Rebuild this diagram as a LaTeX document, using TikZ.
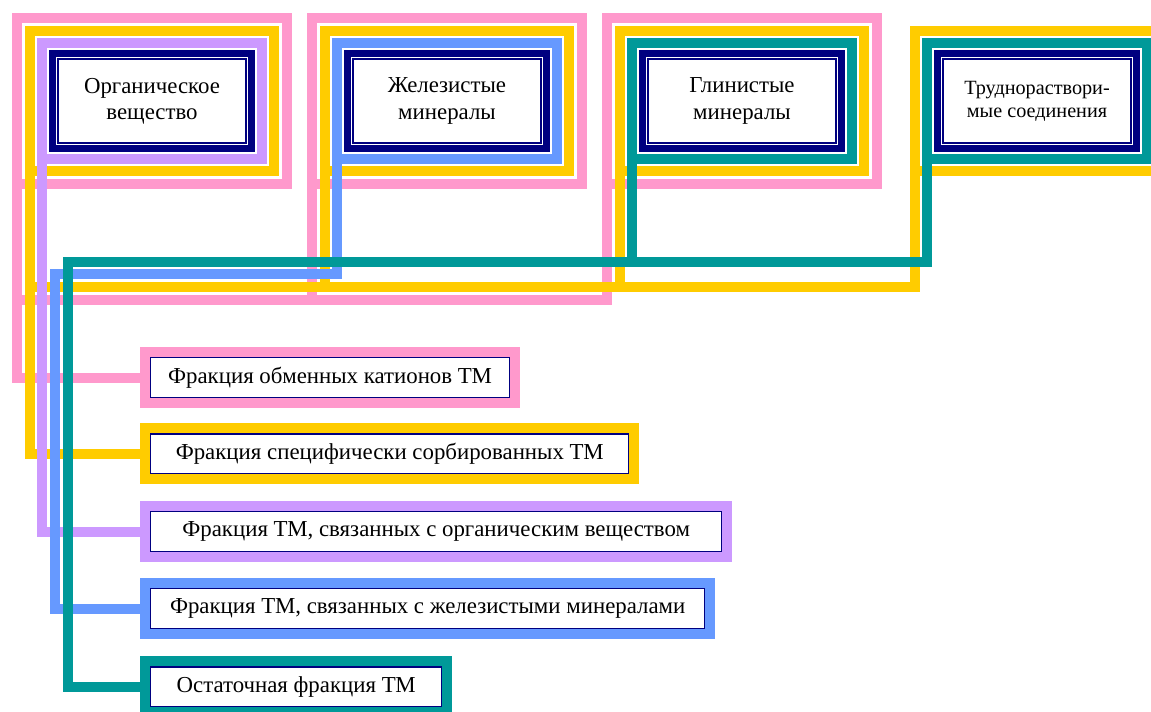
\documentclass[tikz,border=0pt]{standalone}
\usepackage{fontspec}
\setmainfont{Liberation Serif}
\usetikzlibrary{fit}
\definecolor{rozovyj}{HTML}{FF99CC}
\definecolor{zheltyj}{HTML}{FFCC00}
\definecolor{sirenevyj}{HTML}{CC99FF}
\definecolor{goluboj}{HTML}{6699FF}
\definecolor{biryuza}{HTML}{009999}
\definecolor{tsinij}{HTML}{000080}
\begin{document}
\begin{tikzpicture}[x=0.02cm, y=-0.02cm,
    every node/.style={outer sep=0pt},
    istochnik/.style={draw=tsinij, line width=0.03cm, fill=white, inner sep=0pt,
      minimum width=3.76cm, minimum height=1.68cm, align=center,
      font=\fontsize{13pt}{15pt}\selectfont},
    fraktsiya/.style={draw=tsinij, line width=0.03cm, fill=white, inner sep=0pt,
      minimum height=0.8cm, anchor=west, font=\fontsize{13pt}{15pt}\selectfont},
    ramka/.style={draw=#1, line width=0.2cm},
    svyaz/.style={draw=#1, line width=0.2cm}]
    \useasboundingbox (0,0) rectangle (1151,711);
    \clip (0,0) rectangle (1151,711);
    % Источники
    \node[istochnik] (c1) at (152,101) {Органическое\\вещество};
    \node[istochnik] (c2) at (447,101) {Железистые\\минералы};
    \node[istochnik] (c3) at (742,101) {Глинистые\\минералы};
    \node[istochnik, font=\fontsize{11.5pt}{13pt}\selectfont] (c4) at (1037,101) {Труднораствори-\\мые соединения};
    \node[ramka=tsinij, line width=0.14cm, fit=(c1), inner sep=0.11cm] (n1) {};
    \node[ramka=tsinij, line width=0.14cm, fit=(c2), inner sep=0.11cm] (n2) {};
    \node[ramka=tsinij, line width=0.14cm, fit=(c3), inner sep=0.11cm] (n3) {};
    \node[ramka=tsinij, line width=0.14cm, fit=(c4), inner sep=0.11cm] (n4) {};
    % Фракции ТМ
    \node[fraktsiya, minimum width=7.18cm] (f1) at (150.5,377.5) {Фракция обменных катионов ТМ};
    \node[fraktsiya, minimum width=9.57cm] (f2) at (150.5,453.75) {Фракция специфически сорбированных ТМ};
    \node[fraktsiya, minimum width=11.43cm] (f3) at (150.5,531.5) {Фракция ТМ, связанных с органическим веществом};
    \node[fraktsiya, minimum width=11.09cm] (f4) at (150.5,608.5) {Фракция ТМ, связанных с железистыми минералами};
    \node[fraktsiya, minimum width=5.83cm] (f5) at (150.5,686.75) {Остаточная фракция ТМ};
    \node[ramka=rozovyj, fit=(f1), inner sep=0.11cm] (F1) {};
    \node[ramka=zheltyj, fit=(f2), inner sep=0.11cm] (F2) {};
    \node[ramka=sirenevyj, fit=(f3), inner sep=0.11cm] (F3) {};
    \node[ramka=goluboj, fit=(f4), inner sep=0.11cm] (F4) {};
    \node[ramka=biryuza, fit=(f5), inner sep=0.11cm] (F5) {};
    % обменные катионы
    \node[ramka=rozovyj, fit=(c1), inner sep=0.82cm] (p1) {};
    \node[ramka=rozovyj, fit=(c2), inner sep=0.82cm] (p2) {};
    \node[ramka=rozovyj, fit=(c3), inner sep=0.82cm] (p3) {};
    \coordinate (rbus) at (0,300);
    \draw[svyaz=rozovyj] (p1.south west) |- (F1.west);
    \draw[svyaz=rozovyj] (p3.south west) |- (p1.south west |- rbus);
    \draw[svyaz=rozovyj] (p2.south west) -- (p2.south west |- rbus);
    % специфически сорбированные
    \node[ramka=zheltyj, fit=(c1), inner sep=0.57cm] (y1) {};
    \node[ramka=zheltyj, fit=(c2), inner sep=0.57cm] (y2) {};
    \node[ramka=zheltyj, fit=(c3), inner sep=0.57cm] (y3) {};
    \node[ramka=zheltyj, fit=(c4), inner sep=0.57cm] (y4) {};
    \coordinate (zhbus) at (0,287);
    \draw[svyaz=zheltyj] (y1.south west) |- (F2.west);
    \draw[svyaz=zheltyj] (y4.south west) |- (y1.south west |- zhbus);
    \draw[svyaz=zheltyj] (y2.south west) -- (y2.south west |- zhbus);
    \draw[svyaz=zheltyj] (y3.south west) -- (y3.south west |- zhbus);
    % органическое вещество
    \node[ramka=sirenevyj, fit=(c1), inner sep=0.32cm] (v1) {};
    \draw[svyaz=sirenevyj] (v1.south west) |- (F3.west);
    % железистые минералы
    \node[ramka=goluboj, fit=(c2), inner sep=0.32cm] (b2) {};
    \coordinate (golspusk) at (55,274);
    \draw[svyaz=goluboj] (b2.south west) |- (golspusk) |- (F4.west);
    % остаточная фракция
    \node[ramka=biryuza, fit=(c3), inner sep=0.32cm] (t3) {};
    \node[ramka=biryuza, fit=(c4), inner sep=0.32cm] (t4) {};
    \coordinate (birspusk) at (68,262);
    \draw[svyaz=biryuza] (t4.south west) |- (birspusk) |- (F5.west);
    \draw[svyaz=biryuza] (t3.south west) -- (t3.south west |- birspusk);
\end{tikzpicture}
\end{document}
